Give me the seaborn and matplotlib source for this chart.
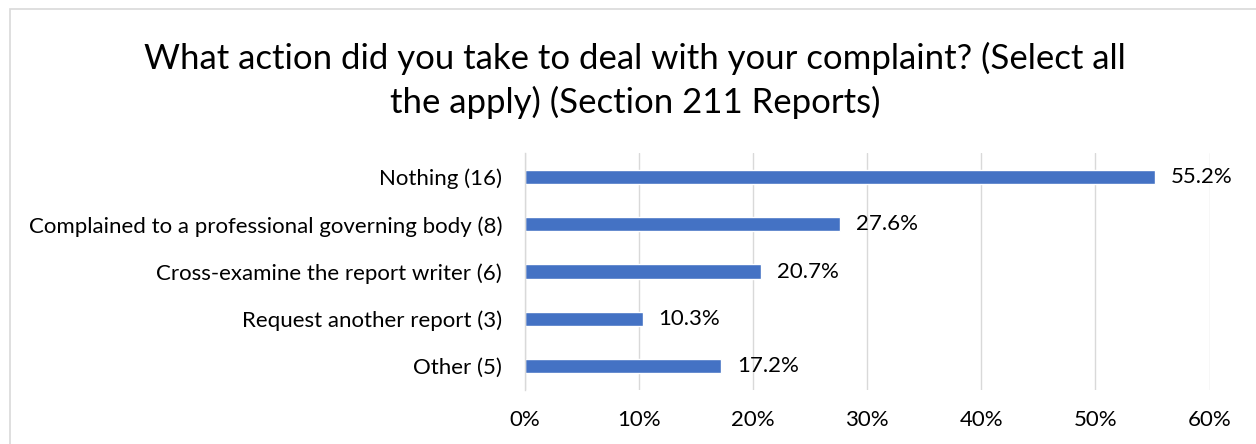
import matplotlib
matplotlib.use("Agg")
import matplotlib.pyplot as plt
from matplotlib.patches import Rectangle
from matplotlib.ticker import FuncFormatter
import seaborn as sns
import pandas as pd

categories = [
    "Nothing (16)",
    "Complained to a professional governing body (8)",
    "Cross-examine the report writer (6)",
    "Request another report (3)",
    "Other (5)",
]
percentages = [55.2, 27.6, 20.7, 10.3, 17.2]
x_ticks = [0, 10, 20, 30, 40, 50, 60]
title = ("What action did you take to deal with your complaint? (Select all\n"
         "the apply) (Section 211 Reports)")

sns.set_theme(style="white")
plt.rcParams["font.family"] = ["Lato", "DejaVu Sans"]

df = pd.DataFrame({"category": categories, "pct": percentages})

fig = plt.figure(figsize=(12.56, 4.44), dpi=100)
ax = fig.add_axes([0.418, 0.1225, 0.545, 0.532])

sns.barplot(data=df, y="category", x="pct", orient="h", color="#4472C4",
            saturation=1, width=0.3, ax=ax)

ax.set_xlim(0, 60)
ax.set_xticks(x_ticks)
ax.xaxis.set_major_formatter(FuncFormatter(lambda v, _: f"{v:.0f}%"))
ax.grid(axis="x", color="#d9d9d9", linewidth=1)
ax.set_axisbelow(True)
for side in ["top", "right", "bottom"]:
    ax.spines[side].set_visible(False)
ax.spines["left"].set_color("#d9d9d9")
ax.spines["left"].set_linewidth(1)
ax.set_xlabel("")
ax.set_ylabel("")
ax.tick_params(axis="both", length=0, labelsize=16, colors="#000000")
ax.tick_params(axis="x", pad=15)
ax.tick_params(axis="y", pad=16.5)

for i, v in enumerate(percentages):
    ax.text(v + 1.4, i, f"{v:.1f}%", va="center", ha="left", fontsize=16,
            color="#000000")

fig.text(0.5056, 0.905, title, ha="center", va="top", fontsize=25,
         color="#000000", linespacing=1.4)

# light frame around the chart area
fig.patches.append(Rectangle((10 / 1256, -0.05), 1.2, 1 - 9 / 444 + 0.05,
                             transform=fig.transFigure, fill=False,
                             edgecolor="#d9d9d9", linewidth=1.2))

fig.savefig("out.png", dpi=100, facecolor="white")
